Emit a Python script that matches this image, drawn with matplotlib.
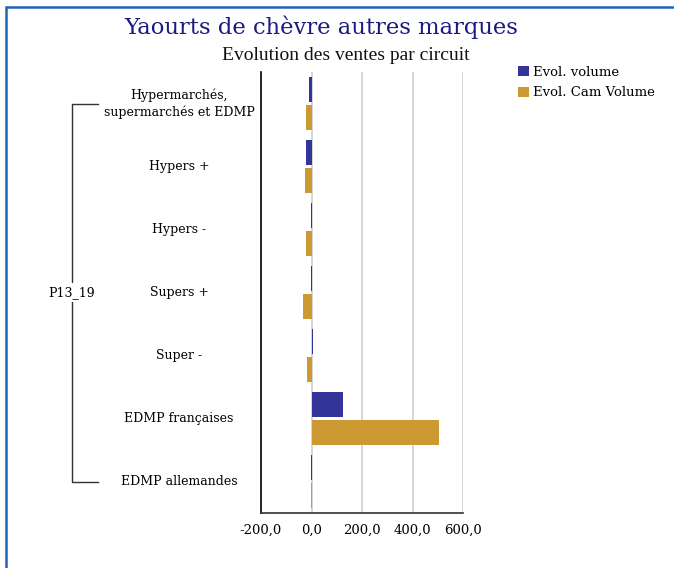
import numpy as np
import matplotlib.pyplot as plt
import matplotlib.transforms as mtransforms
from matplotlib.patches import Rectangle

# Ventes par circuit, période P13_19
circuits = [
    "Hypermarchés,\nsupermarchés et EDMP",
    "Hypers +",
    "Hypers -",
    "Supers +",
    "Super -",
    "EDMP françaises",
    "EDMP allemandes",
]
evol_volume = [-8, -20, -3, -3, 4, 124, -3]
evol_cam_volume = [-20, -24, -20, -32, -16, 505, -3]
x_ticks = [-200, 0, 200, 400, 600]
group_label = "P13_19"

col_vol = "#333399"
col_cam = "#cc9933"
serif = "DejaVu Serif"
W, H = 674, 568

fig = plt.figure(figsize=(W / 100, H / 100), dpi=100)
ax = fig.add_axes([261 / W, 1 - 513 / H, 202 / W, 441 / H])

y = np.arange(len(circuits))
h = 0.41
ax.barh(y - 0.222, evol_volume, height=h, color=col_vol, label="Evol. volume", zorder=3)
ax.barh(y + 0.222, evol_cam_volume, height=h, color=col_cam, label="Evol. Cam Volume", zorder=3)

ax.set_xlim(-200, 600)
ax.set_ylim(len(circuits) - 0.5, -0.5)
ax.set_xticks(x_ticks)
ax.set_xticklabels([f"{v:.1f}".replace(".", ",") for v in x_ticks],
                   family=serif, fontsize=9.5)
ax.set_yticks([])
for x in x_ticks[1:]:
    ax.axvline(x, color="#d0d0d0", lw=1.2, zorder=1)

for s in ["top", "right"]:
    ax.spines[s].set_visible(False)
ax.spines["left"].set_color("black")
ax.spines["left"].set_linewidth(1.2)
ax.spines["bottom"].set_color("#333333")
ax.spines["bottom"].set_linewidth(1.2)
ax.tick_params(axis="x", length=0, pad=8)

# x in figure fraction, y in category units
trans = mtransforms.blended_transform_factory(fig.transFigure, ax.transData)

# category labels, centred in the left margin
for i, name in enumerate(circuits):
    ax.text(179 / W, i, name, ha="center", va="center", family=serif,
            fontsize=9, linespacing=1.3, transform=trans)

# bracket for the period group
bx0, bx1 = 72 / W, 98 / W
last = len(circuits) - 1
ax.plot([bx1, bx0, bx0, bx1], [0, 0, last, last], color="#333333", lw=1,
        clip_on=False, transform=trans)
ax.text(bx0, last / 2, group_label, ha="center", va="center",
        family=serif, fontsize=9, transform=trans,
        bbox=dict(facecolor="white", edgecolor="none", pad=2), clip_on=False)

fig.text(321 / W, 1 - 27 / H, "Yaourts de chèvre autres marques", ha="center",
         va="center", family=serif, fontsize=16.3, color="#1a1a80")
fig.text(345.5 / W, 1 - 56 / H, "Evolution des ventes par circuit", ha="center",
         va="center", family="Liberation Serif", fontsize=14, color="#111111")

leg = fig.legend(loc="upper left", bbox_to_anchor=(518 / W, 1 - 66 / H),
                 frameon=False, prop={"family": serif, "size": 9.5},
                 handlelength=0.8, handleheight=0.8, handletextpad=0.35,
                 labelspacing=0.55, borderaxespad=0, borderpad=0)

# outer frame
fig.add_artist(Rectangle((5.5 / W, -0.1), 1.2, 1.1 - 7.5 / H,
                         transform=fig.transFigure, fill=False,
                         edgecolor="#1f64b8", lw=1.8))

fig.savefig("out.png", dpi=100)
